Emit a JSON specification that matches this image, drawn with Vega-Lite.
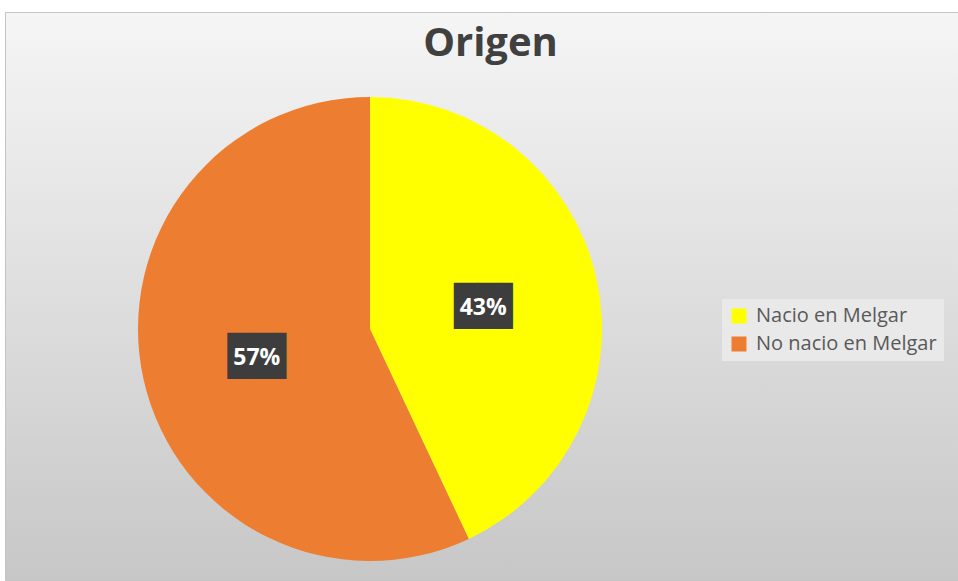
{
  "$schema": "https://vega.github.io/schema/vega-lite/v6.json",
  "width": 953,
  "height": 568,
  "padding": {"left": 5, "top": 12, "right": 0, "bottom": 1},
  "autosize": {"type": "none"},
  "background": "#ffffff",
  "view": {
    "fill": {
      "gradient": "linear",
      "x1": 0, "y1": 0, "x2": 0, "y2": 1,
      "stops": [
        {"offset": 0, "color": "#f5f5f5"},
        {"offset": 0.5, "color": "#dedede"},
        {"offset": 1, "color": "#c7c7c7"}
      ]
    },
    "stroke": "#c4c4c4",
    "strokeWidth": 1
  },
  "title": {
    "text": "Origen",
    "font": "Open Sans",
    "fontSize": 40,
    "fontWeight": "bold",
    "color": "#404040",
    "anchor": "middle",
    "frame": "group",
    "baseline": "alphabetic",
    "offset": -45,
    "dx": 9,
    "dy": 39
  },
  "data": {
    "values": [
      {"origen": "Nacio en Melgar", "pct": 43, "label": "43%", "idx": 1},
      {"origen": "No nacio en Melgar", "pct": 57, "label": "57%", "idx": 2}
    ]
  },
  "encoding": {
    "theta": {"field": "pct", "type": "quantitative", "stack": true},
    "order": {"field": "idx", "type": "quantitative"}
  },
  "layer": [
    {
      "mark": {"type": "arc", "outerRadius": 232, "x": 365, "y": 317, "strokeWidth": 0},
      "encoding": {
        "color": {
          "field": "origen",
          "type": "nominal",
          "scale": {"domain": ["Nacio en Melgar", "No nacio en Melgar"], "range": ["#FFFF00", "#ED7D31"]},
          "legend": {
            "title": null,
            "orient": "none",
            "legendX": 717,
            "legendY": 287,
            "padding": 7,
            "fillColor": "#e9e9e9",
            "symbolType": "square",
            "symbolSize": 225,
            "symbolStrokeWidth": 0,
            "labelFont": "Open Sans",
            "labelFontSize": 20,
            "labelColor": "#595959",
            "labelLimit": 400,
            "rowPadding": 8,
            "labelOffset": 7
          }
        }
      }
    },
    {
      "mark": {"type": "text", "radius": 116, "x": 365, "y": 317, "text": "██▌", "font": "DejaVu Sans Mono", "fontSize": 39, "color": "#3d3d3d", "baseline": "middle", "dx": 6, "dy": 3},
      "encoding": {"detail": {"field": "origen", "type": "nominal"}}
    },
    {
      "mark": {"type": "text", "radius": 116, "x": 365, "y": 317, "font": "Open Sans", "fontSize": 23, "fontWeight": "bold", "color": "#ffffff", "baseline": "middle", "dy": 4},
      "encoding": {
        "detail": {"field": "origen", "type": "nominal"},
        "text": {"field": "label", "type": "nominal"}
      }
    }
  ]
}
